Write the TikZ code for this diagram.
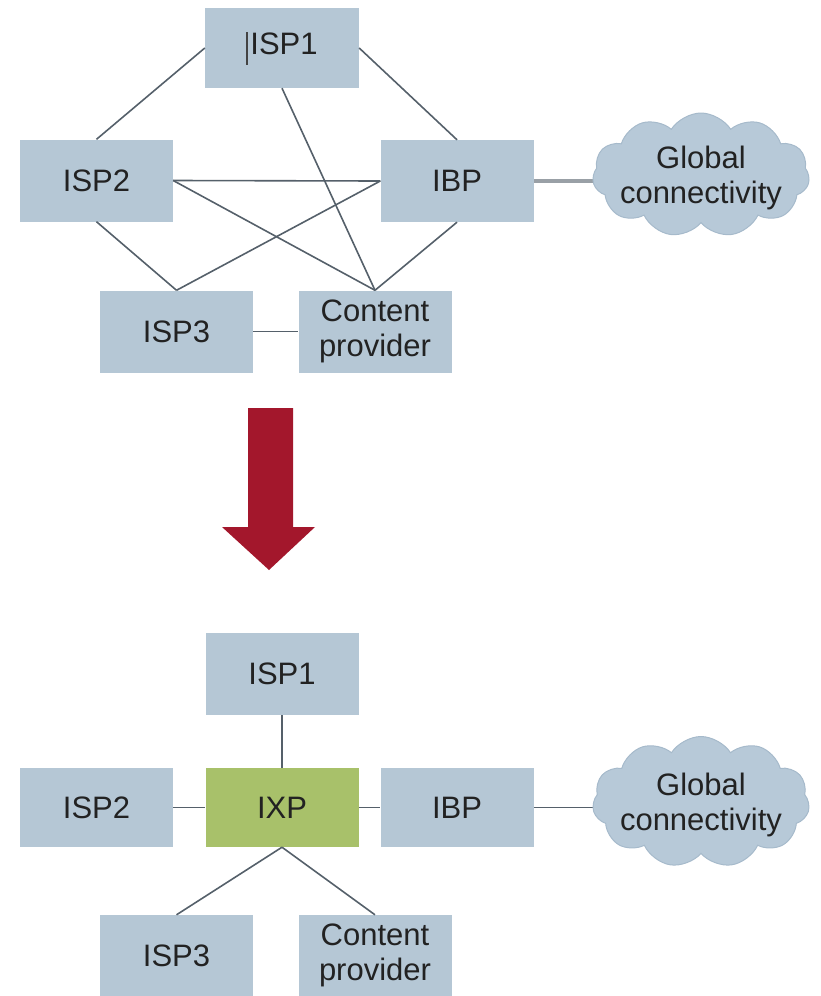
\documentclass[tikz,border=0pt]{standalone}
\usepackage{fontspec}
\setmainfont{Liberation Sans}
\usetikzlibrary{shapes.symbols,backgrounds}
\definecolor{boxfill}{HTML}{B5C7D5}
\definecolor{ixpfill}{HTML}{A8C16A}
\definecolor{cloudfill}{HTML}{B7C9D8}
\definecolor{cloudedge}{HTML}{A6BACB}
\definecolor{linecol}{HTML}{55606A}
\definecolor{arrowred}{HTML}{A3172C}
\definecolor{txt}{HTML}{222222}
\tikzset{
  box/.style={rectangle, fill=boxfill, minimum width=153pt, minimum height=82pt,
    inner sep=0pt, align=center, text=txt, font=\fontsize{31}{35}\selectfont},
  ixpbox/.style={box, fill=ixpfill},
  cloudnode/.style={cloud, cloud puffs=11, cloud puff arc=115, aspect=1.75,
    fill=cloudfill, draw=cloudedge, line width=1pt, minimum width=217pt, minimum height=124pt,
    inner sep=0pt},
  cloudtext/.style={inner sep=0pt, align=center, text=txt, font=\fontsize{31}{35}\selectfont},
  link/.style={draw=linecol, line width=1.6pt},
  thicklink/.style={draw=linecol!60, line width=4pt},
}
\begin{document}
\begin{tikzpicture}[x=1pt,y=-1pt]
\useasboundingbox (0,0) rectangle (821,996);
% ---------- top ----------
\node[box, minimum width=154pt, minimum height=80pt] (a1) at (282,48) {\textcolor{txt!85}{\rule[-10pt]{2pt}{33pt}}\kern2pt ISP1};
\node[box] (a2) at (96.5,180.5) {ISP2};
\node[box] (a4) at (457,181) {IBP};
\node[cloudnode] (ac) at (701,175) {};
\node[cloudtext] (act) at (701,178) {Global\\connectivity};
\node[box] (a3) at (176.5,331.5) {ISP3};
\node[box] (ac2) at (375,331.5) {Content\\provider};
\draw[link] (a1.west) -- (a2.north);
\draw[link] (a1.east) -- (a4.north);
\draw[link] (a1.south) -- (ac2.north);
\draw[link] (a2.east) -- (a4.west);
\draw[link] (a2.east) -- (ac2.north);
\draw[link] (a4.west) -- (a3.north);
\draw[link] (a2.south) -- (a3.north);
\draw[link] (a4.south) -- (ac2.north);
\draw[link] (a3.east) -- (ac2.west);
\begin{pgfonlayer}{background}
\draw[thicklink] (a4.east) -- (a4.east -| ac.center);
\end{pgfonlayer}
% ---------- arrow ----------
\fill[arrowred] (248,408) -- (293,408) -- (293,527) -- (315,527) -- (269,570) -- (222,527) -- (248,527) -- cycle;
% ---------- bottom ----------
\node[box] (b1) at (282,674) {ISP1};
\node[box, minimum height=79pt] (b2) at (96.5,807.5) {ISP2};
\node[ixpbox, minimum height=79pt] (bx) at (282,807.5) {IXP};
\node[box, minimum height=79pt] (b4) at (457,807.5) {IBP};
\node[cloudnode, minimum height=131pt] (bc) at (701,802) {};
\node[cloudtext] (bct) at (701,805) {Global\\connectivity};
\node[box, minimum height=81pt] (b3) at (176.5,955.5) {ISP3};
\node[box, minimum height=81pt] (bc2) at (375,955.5) {Content\\provider};
\draw[link] (b1.south) -- (bx.north);
\draw[link] (b2.east) -- (bx.west);
\draw[link] (bx.east) -- (b4.west);
\begin{pgfonlayer}{background}
\draw[link] (b4.east) -- (b4.east -| bc.center);
\end{pgfonlayer}
\draw[link] (bx.south) -- (b3.north);
\draw[link] (bx.south) -- (bc2.north);
\end{tikzpicture}
\end{document}
